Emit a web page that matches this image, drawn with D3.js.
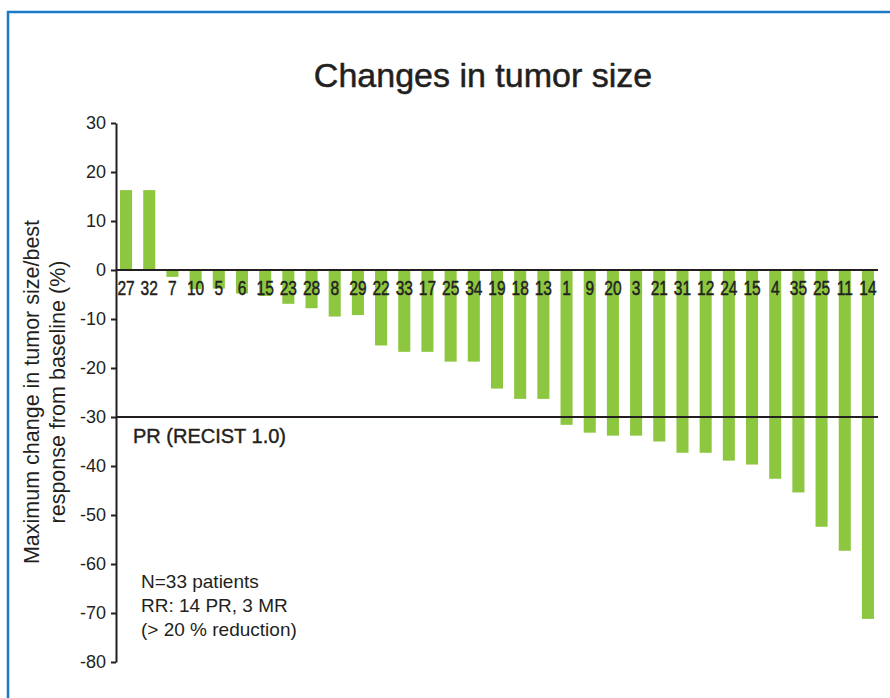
<!DOCTYPE html>
<html>
<head>
<meta charset="utf-8">
<script src="https://cdn.jsdelivr.net/npm/d3@7"></script>
<style>
  html, body { margin: 0; padding: 0; background: #ffffff; }
  svg { display: block; }
  text { font-family: "Liberation Sans", Arial, Helvetica, sans-serif; fill: #231f20; }
</style>
</head>
<body>
<svg id="chart" width="890" height="698"></svg>
<script>
// ---- data ----
const patients = ["27","32","7","10","5","6","15","23","28","8","29","22","33","17","25","34","19","18","13","1","9","20","3","21","31","12","24","15","4","35","25","11","14"];
const changes = [16.3,16.3,-1.4,-3.9,-3.8,-4.8,-5.3,-6.9,-7.8,-9.5,-9.2,-15.4,-16.7,-16.7,-18.7,-18.7,-24.2,-26.3,-26.3,-31.6,-33.2,-33.8,-33.8,-35.0,-37.3,-37.3,-38.9,-39.7,-42.6,-45.4,-52.4,-57.3,-71.2];
const yTicks = [30,20,10,0,-10,-20,-30,-40,-50,-60,-70,-80];
const prThreshold = -30;
const titleText = "Changes in tumor size";
const yLabelLines = ["Maximum change in tumor size/best", "response from baseline (%)"];
const prLabel = "PR (RECIST 1.0)";
const noteLines = ["N=33 patients", "RR: 14 PR, 3 MR", "(> 20 % reduction)"];

// ---- layout ----
const svg = d3.select("#chart");
const barColor = "#8dc63f";
const ink = "#231f20";
const borderColor = "#1b7bc6";

svg.append("rect").attr("width", 890).attr("height", 698).attr("fill", "#ffffff");

// frame (top and left blue rules)
svg.append("line").attr("x1", 7).attr("x2", 890).attr("y1", 12).attr("y2", 12)
  .attr("stroke", borderColor).attr("stroke-width", 2.5);
svg.append("line").attr("x1", 8).attr("x2", 8).attr("y1", 11).attr("y2", 698)
  .attr("stroke", borderColor).attr("stroke-width", 2.5);

const y = d3.scaleLinear().domain([-80, 30]).range([662, 123]);
const x = d3.scaleBand().domain(d3.range(patients.length))
  .range([114, 880]).paddingInner(0.48).paddingOuter(0.26);

const axisX = 116;
const lineEnd = 878;

// bars
svg.append("g").selectAll("rect").data(changes).join("rect")
  .attr("x", (d, i) => x(i))
  .attr("width", x.bandwidth())
  .attr("y", d => y(Math.max(0, d)))
  .attr("height", d => Math.abs(y(d) - y(0)))
  .attr("fill", barColor);

// y axis
const yAxis = svg.append("g").attr("transform", `translate(${axisX},0)`)
  .call(d3.axisLeft(y).tickValues(yTicks).tickSize(5).tickSizeOuter(0).tickPadding(5)
    .tickFormat(d => String(d)));
yAxis.select(".domain").attr("stroke", ink).attr("stroke-width", 2);
yAxis.selectAll(".tick line").attr("stroke", ink).attr("stroke-width", 2);
yAxis.selectAll(".tick text").attr("font-size", 18).attr("fill", ink)
  .style("font-family", '"Liberation Sans", Arial, Helvetica, sans-serif');

// zero line and PR threshold
svg.append("line").attr("x1", axisX).attr("x2", lineEnd).attr("y1", y(0)).attr("y2", y(0))
  .attr("stroke", ink).attr("stroke-width", 2);
svg.append("line").attr("x1", axisX).attr("x2", lineEnd).attr("y1", y(prThreshold)).attr("y2", y(prThreshold))
  .attr("stroke", ink).attr("stroke-width", 2);

// category labels (condensed)
svg.append("g").selectAll("text").data(patients).join("text")
  .attr("transform", (d, i) => `translate(${x(i) + x.bandwidth() / 2},295) scale(0.74,1)`)
  .attr("text-anchor", "middle")
  .attr("font-size", 21)
  .attr("stroke", ink).attr("stroke-width", 0.5)
  .text(d => d);

// title
svg.append("text").attr("x", 483).attr("y", 87).attr("text-anchor", "middle")
  .attr("font-size", 34).attr("stroke", ink).attr("stroke-width", 0.5).text(titleText);

// y label
yLabelLines.forEach((t, i) => {
  svg.append("text")
    .attr("transform", `translate(${39 + i * 26},392) rotate(-90)`)
    .attr("text-anchor", "middle")
    .attr("font-size", 21.5)
    .text(t);
});

// PR label
svg.append("text").attr("x", 133).attr("y", 443).attr("font-size", 20)
  .attr("stroke", ink).attr("stroke-width", 0.4).text(prLabel);

// note
noteLines.forEach((t, i) => {
  svg.append("text").attr("x", 141).attr("y", 588 + i * 24).attr("font-size", 19).text(t);
});
</script>
</body>
</html>
